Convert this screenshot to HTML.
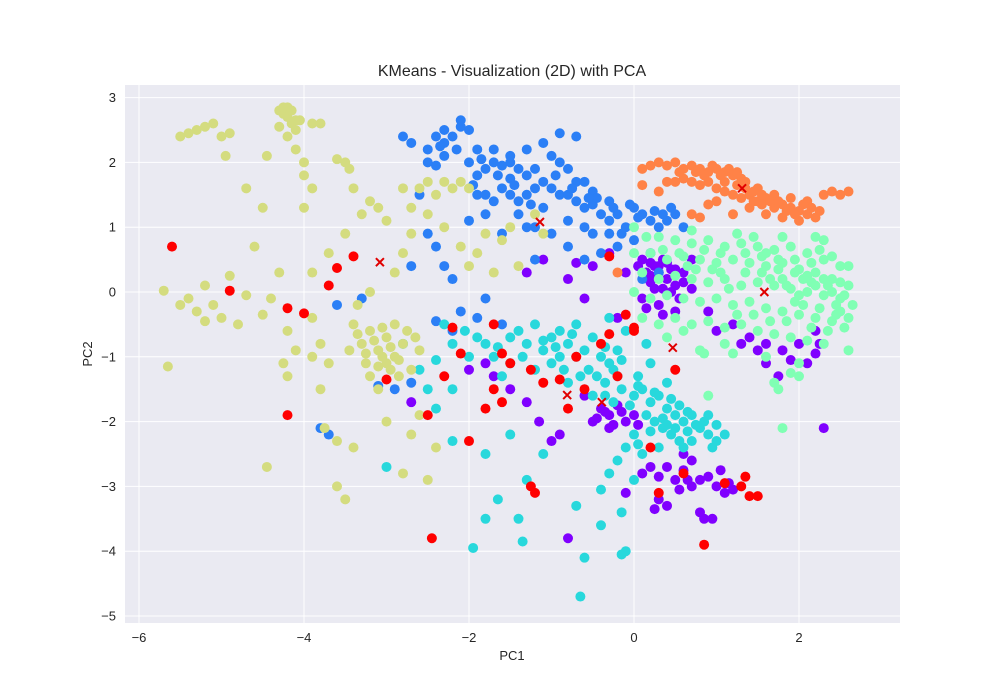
<!DOCTYPE html>
<html><head><meta charset="utf-8"><style>
body{margin:0;background:#fff;}
svg{display:block;font-family:"Liberation Sans",Arial,sans-serif;}
</style></head><body>
<svg id="chart" width="1000" height="700" viewBox="0 0 1000 700">
<rect x="125" y="85" width="775" height="538" fill="#eaeaf2"/>
<g id="grid"></g>
<g id="marks"></g>
<g id="cents"></g>
<g id="ticks" font-size="13" fill="#262626"></g>
<text x="512" y="76" text-anchor="middle" font-size="16" fill="#262626">KMeans - Visualization (2D) with PCA</text>
<text x="512" y="660" text-anchor="middle" font-size="13" fill="#262626">PC1</text>
<text x="92" y="354" text-anchor="middle" font-size="13" fill="#262626" transform="rotate(-90 92 354)">PC2</text>
</svg>
<script>
const xTicks=[-6,-4,-2,0,2];
const yTicks=[3,2,1,0,-1,-2,-3,-4,-5];
const clusterColors=["#8000ff","#2b7ff6","#28d8dc","#80ffb4","#d4dc7f","#ff8247","#ff0000"];
const c0="-0.1,0.3 0.1,0.5 0.2,0.45 0.3,0.3 0.35,0.5 0.45,0.35 0.5,0.1 0.2,0.15 0.1,-0.1 0.3,-0.2 0.6,0.3 0.55,-0.1 -0.3,0.6 -0.5,0.4 -0.8,0.2 -1.1,0.5 -1.3,0.3 -0.6,-0.1 -0.2,-0.4 0.7,0.5 0.9,-0.3 1.0,-0.6 1.2,-0.5 1.3,-0.8 1.4,-0.7 1.5,-0.9 1.6,-0.8 1.8,-0.9 2.0,-0.8 2.2,-0.6 2.3,-2.1 2.1,-1.1 1.6,-1.1 -0.4,-1.8 -0.3,-1.9 -0.2,-1.75 -0.1,-2.0 0.0,-1.9 -0.5,-2.0 -0.6,-1.6 -0.9,-2.2 -1.0,-2.3 -1.15,-2.0 -1.3,-1.7 -1.5,-1.5 -1.8,-1.1 -2.0,-1.2 -0.8,-3.8 0.1,-2.8 0.2,-2.7 0.3,-2.85 0.4,-2.7 0.5,-2.9 0.6,-2.75 0.7,-3.0 0.8,-2.9 0.9,-2.85 1.0,-3.0 1.1,-3.1 1.2,-3.05 0.3,-3.2 0.4,-3.3 0.25,-3.35 0.8,-3.4 0.85,-3.5 0.95,-3.5 0.6,-2.5 0.7,-2.6 -0.1,-3.1 -2.7,-1.7 -1.7,-1.3 0.25,0.4 0.4,0.2 0.15,0.3 0.35,0.05 -0.35,-1.85 -0.25,-2.05 1.75,-1.3 2.25,-0.8 0.2,0.25 0.3,0.4 0.4,0.45 0.5,0.35 0.25,0.05 0.45,0.0 0.6,0.15 0.05,0.4 0.35,-0.35 0.15,-0.25 0.5,-0.3 0.7,0.05 -0.15,-1.85 -0.45,-1.95 -0.3,-2.1 0.05,-2.05 1.05,-2.75 1.15,-2.95 0.55,-3.05 0.65,-2.9 2.2,-0.95 1.9,-1.05 -0.7,0.45";
const c1="-2.8,2.4 -2.7,2.3 -2.5,2.2 -2.4,2.4 -2.3,2.5 -2.2,2.4 -2.1,2.55 -2.0,2.5 -2.1,2.65 -2.5,2.0 -2.4,1.95 -2.3,2.1 -2.6,1.5 -2.5,0.9 -2.4,0.7 -2.3,0.4 -2.2,0.2 -2.0,2.0 -1.9,1.8 -1.8,1.9 -1.7,2.0 -1.6,1.95 -1.5,2.0 -1.4,1.9 -1.3,1.8 -1.9,1.5 -1.8,1.5 -1.7,1.4 -1.6,1.6 -1.5,1.5 -1.4,1.4 -1.3,1.5 -1.2,1.6 -1.1,1.7 -1.0,1.6 -0.9,1.5 -0.8,1.5 -0.7,1.4 -0.6,1.3 -0.5,1.35 -0.4,1.2 -0.3,1.1 -0.2,1.2 -0.1,1.0 0.0,1.3 0.1,1.2 0.2,1.1 0.3,1.0 0.4,1.1 0.5,1.2 0.6,1.0 -1.9,2.2 -1.7,2.2 -1.5,2.1 -1.3,2.2 -1.1,2.3 -1.0,2.1 -0.9,2.0 -0.8,1.9 -0.7,1.7 -0.6,1.7 -0.5,1.55 -0.9,2.45 -0.7,2.4 -1.4,1.2 -1.2,1.0 -1.0,0.9 -0.8,0.7 -0.6,0.5 -0.4,0.6 -0.2,0.7 0.0,0.8 -0.5,0.9 -1.8,1.2 -2.0,1.1 -1.6,0.9 -3.7,-2.2 -3.6,-0.2 -3.1,-1.45 -2.9,-1.5 -2.7,-1.4 -3.3,-0.1 -2.7,0.4 -2.2,-0.6 -2.1,-0.3 -1.9,-0.4 -1.8,-0.1 -1.6,-0.5 -2.4,-0.45 -3.8,-2.1 0.1,0.2 0.3,0.3 -0.3,0.9 -1.2,0.5 -0.8,1.1 -0.3,1.4 0.2,0.6 -1.5,1.75 -1.1,1.3 -0.6,1.0 -1.3,1.0 -2.3,2.3 -1.95,1.65 -1.25,1.35 -0.45,1.45 0.45,1.3 -0.15,0.9 -2.35,2.25 -2.15,2.2 -1.85,2.05 -1.65,1.8 -1.45,1.65 -1.2,1.9 -0.95,1.8 -0.75,1.6 -0.55,1.45 -0.25,1.3 0.05,1.15 0.25,1.25 0.35,1.2 -0.05,1.35";
const c2="-2.3,-0.5 -2.2,-0.8 -2.0,-1.0 -1.9,-0.7 -1.8,-0.8 -1.7,-1.0 -1.5,-0.7 -1.4,-0.6 -1.3,-0.8 -1.2,-0.5 -1.1,-0.9 -1.0,-0.7 -0.9,-0.6 -0.8,-0.8 -0.7,-0.5 -0.6,-0.9 -0.5,-0.7 -0.4,-1.0 -0.3,-1.1 -0.2,-0.9 -0.55,-1.2 -0.45,-1.3 -0.35,-1.4 -0.25,-1.2 -0.15,-1.5 0.0,-1.6 0.1,-1.5 0.2,-1.7 0.3,-1.6 0.4,-1.8 0.5,-1.9 0.6,-2.0 0.7,-1.9 0.8,-2.1 0.9,-2.2 1.0,-2.3 1.1,-2.2 0.15,-1.9 0.25,-2.0 0.35,-2.1 0.45,-2.2 0.55,-2.3 0.0,-2.2 -0.1,-2.4 0.1,-2.5 -0.2,-2.6 -0.3,-2.8 0.0,-2.9 -0.4,-3.05 -0.15,-3.4 -0.6,-4.1 -0.65,-4.7 -0.1,-4.0 -0.15,-4.05 -0.4,-3.6 -0.7,-3.3 -1.1,-2.5 -1.3,-2.9 -1.4,-3.5 -1.35,-3.85 -1.65,-3.2 -1.8,-3.5 -1.95,-3.95 -1.8,-2.5 -1.5,-2.2 -2.2,-1.5 -2.4,-1.8 -2.5,-1.5 -2.6,-1.2 -2.8,-0.8 -3.0,-2.7 -2.2,-2.3 -1.6,-1.3 -0.8,-1.4 -1.0,-1.1 -0.7,-1.0 0.05,-1.3 0.4,-1.4 0.2,-1.1 -0.1,-0.6 -0.3,-0.4 0.6,-2.4 0.9,-1.9 0.3,-2.4 -0.5,-1.6 0.15,-0.8 -0.9,-1.0 -1.2,-1.2 -1.5,-1.1 -2.4,-1.05 -0.05,-1.75 0.35,-1.95 0.65,-2.15 0.75,-2.05 -0.65,-1.3 -0.2,-1.3 -1.1,-0.75 -0.95,-0.85 -0.75,-0.65 -0.35,-0.85 -0.15,-1.05 0.05,-1.45 0.25,-1.55 0.45,-1.65 0.55,-1.75 0.65,-1.85 0.85,-2.0 1.0,-2.05 0.4,-2.05 0.2,-2.15 0.05,-2.35 0.5,-2.1 -0.35,-1.6 -0.25,-1.7 0.95,-2.4 0.7,-2.3 -1.65,-0.85 -2.05,-0.6 -1.35,-1.0 -0.85,-1.2";
const c3="0.3,0.85 0.5,0.8 0.7,0.75 0.9,0.8 1.1,0.7 1.3,0.75 1.5,0.7 1.7,0.65 1.9,0.7 2.1,0.6 2.3,0.5 2.5,0.4 0.2,0.6 0.4,0.5 0.6,0.55 0.8,0.5 1.0,0.45 1.2,0.5 1.4,0.45 1.6,0.4 1.8,0.45 2.0,0.35 2.2,0.3 2.4,0.2 2.6,0.1 0.1,0.3 0.3,0.2 0.5,0.25 0.7,0.2 0.9,0.15 1.1,0.2 1.3,0.1 1.5,0.15 1.7,0.1 1.9,0.05 2.1,0.0 2.3,-0.05 2.5,-0.1 2.65,-0.2 0.0,0.0 0.2,-0.1 0.4,-0.05 0.6,-0.1 0.8,-0.15 1.0,-0.1 1.2,-0.2 1.4,-0.15 1.6,-0.25 1.8,-0.3 2.0,-0.35 2.2,-0.4 2.4,-0.45 2.55,-0.55 0.1,-0.4 0.3,-0.5 0.5,-0.4 0.7,-0.5 0.9,-0.45 1.1,-0.55 1.3,-0.5 1.5,-0.6 1.7,-0.65 1.9,-0.7 2.1,-0.75 2.3,-0.8 0.8,-0.9 1.2,-0.95 1.6,-1.0 2.0,-1.1 2.6,-0.9 1.7,-1.4 1.75,-1.5 2.0,-1.3 1.8,-2.1 1.9,-1.25 0.9,-1.6 0.85,-0.95 1.45,0.85 1.8,0.85 2.3,0.8 2.4,0.55 2.6,0.4 0.0,0.6 1.1,-0.8 0.4,-0.7 0.6,-0.6 2.2,0.85 2.5,-0.3 1.05,0.3 1.35,0.3 1.6,0.6 2.05,0.2 0.65,0.4 1.8,0.2 2.35,0.1 2.45,-0.2 2.15,0.45 1.95,-0.15 2.25,-0.25 2.6,-0.4 0.0,1.0 0.7,0.95 1.25,0.9 1.55,0.3 1.65,0.2 1.75,0.35 1.85,0.1 2.0,-0.05 2.1,0.25 2.2,0.1 2.3,0.2 2.4,0.0 2.5,0.15 2.55,-0.05 2.45,-0.35 2.35,-0.6 2.15,-0.55 2.05,-0.2 1.95,0.3 1.85,-0.45 1.65,-0.45 1.45,-0.35 1.25,-0.35 1.15,0.05 0.95,0.35 0.75,0.35 0.55,0.6 0.85,0.65 1.05,0.6 1.35,0.6 1.55,0.55 1.75,0.5 1.95,0.5 2.15,0.15 2.25,0.65 0.15,0.85 0.35,0.65";
const c4="-5.7,0.02 -5.65,-1.15 -5.5,2.4 -5.4,2.45 -5.3,2.5 -5.2,2.55 -5.1,2.6 -5.0,2.4 -4.9,2.45 -4.95,2.1 -5.4,-0.1 -5.3,-0.3 -5.2,0.1 -5.1,-0.2 -5.0,-0.4 -4.9,0.25 -4.8,-0.5 -4.7,-0.05 -4.5,-0.35 -4.45,2.1 -4.45,-2.7 -4.4,-0.1 -4.3,0.3 -4.2,-0.6 -4.25,-1.1 -4.2,-1.3 -4.3,2.8 -4.25,2.75 -4.2,2.7 -4.15,2.6 -4.2,2.4 -4.1,2.5 -4.1,2.2 -4.0,2.0 -4.0,1.8 -3.9,1.6 -3.9,2.6 -3.8,2.6 -4.0,1.3 -3.9,0.3 -3.9,-0.4 -3.8,-1.5 -3.8,-0.8 -3.7,-1.1 -3.75,-2.1 -3.6,-2.3 -3.6,2.05 -3.5,2.0 -3.45,1.9 -3.4,1.6 -3.3,1.2 -3.2,1.4 -3.1,1.3 -3.0,1.1 -3.35,-0.2 -3.4,-0.5 -3.3,-0.8 -3.2,-0.6 -3.1,-0.9 -3.0,-0.7 -2.9,-1.0 -3.2,-1.3 -3.1,-1.5 -3.0,-1.1 -2.9,-0.5 -2.8,-0.8 -2.85,-1.3 -2.75,-0.6 -2.7,-1.2 -2.6,-0.9 -2.9,0.3 -2.8,0.6 -2.7,0.9 -2.7,1.3 -2.8,1.6 -2.6,1.6 -2.5,1.7 -2.4,1.5 -2.3,1.7 -2.2,1.6 -2.1,1.7 -2.0,1.6 -2.5,1.2 -2.3,1.0 -2.1,0.7 -2.0,0.4 -1.9,0.6 -1.8,0.9 -1.7,0.3 -1.6,0.8 -1.5,1.0 -1.4,0.4 -1.2,1.2 -1.1,0.9 -2.6,-1.9 -2.7,-2.2 -2.8,-2.8 -2.5,-2.9 -2.4,-2.4 -3.6,-3.0 -3.5,-3.2 -3.4,-2.4 -3.0,-2.0 -3.9,-1.0 -4.1,-0.9 -5.5,-0.2 -5.2,-0.45 -4.6,0.7 -4.5,1.3 -4.7,1.6 -3.7,0.6 -3.5,0.9 -3.2,0.0 -3.15,-0.75 -3.05,-1.0 -2.95,-0.85 -3.25,-0.95 -4.3,2.55 -4.2,2.85 -4.05,2.65 -3.35,-0.65 -3.25,-1.1 -3.05,-0.55 -2.95,-1.2 -3.1,-1.15 -2.85,-1.05 -2.65,-0.7 -3.45,-0.9 -4.25,2.85 -4.15,2.8 -4.1,2.65";
const c5="0.1,1.9 0.2,1.95 0.3,2.0 0.4,1.95 0.5,2.0 0.6,1.9 0.7,1.95 0.8,1.9 0.9,1.85 1.0,1.9 1.1,1.85 1.2,1.8 1.3,1.75 0.5,1.7 0.6,1.75 0.7,1.7 0.8,1.65 0.9,1.7 1.0,1.6 1.1,1.55 1.2,1.5 1.3,1.45 1.4,1.5 1.5,1.4 1.6,1.45 1.7,1.3 1.8,1.35 1.9,1.3 2.0,1.25 2.1,1.2 2.2,1.15 2.3,1.5 2.4,1.55 2.5,1.5 2.6,1.55 1.5,1.6 1.7,1.5 1.9,1.45 2.0,1.1 2.1,1.4 1.0,1.4 0.9,1.35 0.1,1.65 0.3,1.55 0.4,1.7 0.7,1.2 0.8,1.15 -0.2,0.3 1.4,1.3 1.6,1.2 1.8,1.15 1.1,1.7 1.2,1.2 1.25,1.65 1.35,1.6 1.45,1.55 1.55,1.35 1.65,1.4 1.85,1.25 2.15,1.3 0.95,1.95 1.05,1.8 1.15,1.9 1.25,1.85 1.35,1.7 1.45,1.4 1.55,1.5 1.75,1.4 1.95,1.2 2.05,1.35 2.25,1.25 0.85,1.8 0.75,1.85 0.55,1.85";
const c6="-5.6,0.7 -4.9,0.02 -4.2,-0.25 -4.0,-0.33 -4.2,-1.9 -3.6,0.37 -3.7,0.1 -3.4,0.55 -3.0,-1.35 -2.5,-1.9 -2.45,-3.8 -2.3,-1.3 -2.1,-0.95 -2.0,-2.3 -1.8,-1.8 -1.7,-1.5 -1.6,-0.95 -1.5,-1.1 -1.6,-1.7 -1.25,-1.2 -1.2,-3.1 -1.25,-3.0 -1.1,-1.4 -0.9,-1.35 -0.8,-1.8 -0.7,-1.0 -0.6,-1.5 -0.4,-0.8 -0.3,-0.65 -0.2,-1.3 -0.1,-0.35 0.0,-0.6 0.2,-2.4 0.5,-1.2 0.6,-2.8 0.85,-3.9 1.1,-2.95 1.3,-3.0 1.4,-3.15 1.5,-3.15 1.35,-2.85 -0.3,0.55 0.0,-0.55 -1.7,-0.5 -2.2,-0.55 0.3,-3.1";
const clusters=[c0,c1,c2,c3,c4,c5,c6];
const centX=[-3.08,-1.14,1.31,1.58,0.47,-0.81,-0.39];
const centY=[0.46,1.08,1.6,0.0,-0.86,-1.59,-1.70];

const NS="http://www.w3.org/2000/svg";
const X=v=>634+v*82.5, Y=v=>292-v*64.8;
function mk(t,a,p){const e=document.createElementNS(NS,t);for(const k in a)e.setAttribute(k,a[k]);p.appendChild(e);return e;}
const grid=document.getElementById('grid'),ticks=document.getElementById('ticks');
xTicks.forEach(v=>{const g=mk('line',{x1:X(v),x2:X(v),y1:85,y2:623,stroke:'#fff','stroke-width':1},grid);

const t=mk('text',{x:X(v),y:642,'text-anchor':'middle'},ticks);t.textContent=v<0?'\u2212'+(-v):v;
});
yTicks.forEach(v=>{const g=mk('line',{x1:125,x2:900,y1:Y(v),y2:Y(v),stroke:'#fff','stroke-width':1},grid);

const t=mk('text',{x:116,y:Y(v)+4.5,'text-anchor':'end'},ticks);t.textContent=v<0?'\u2212'+(-v):v;
});
const marks=document.getElementById('marks');
clusters.forEach((s,ci)=>{s.trim().split(/\s+/).forEach(p=>{const [a,b]=p.split(',').map(Number);
const c=mk('circle',{cx:X(a),cy:Y(b),r:5,fill:clusterColors[ci]},marks);
});});
const cents=document.getElementById('cents');
centX.forEach((v,i)=>{const cx=X(v),cy=Y(centY[i]),d=4;
const p=mk('path',{d:`M${cx-d},${cy-d}L${cx+d},${cy+d}M${cx-d},${cy+d}L${cx+d},${cy-d}`,stroke:'#e00000','stroke-width':2,fill:'none'},cents);
});
</script>
</body></html>
